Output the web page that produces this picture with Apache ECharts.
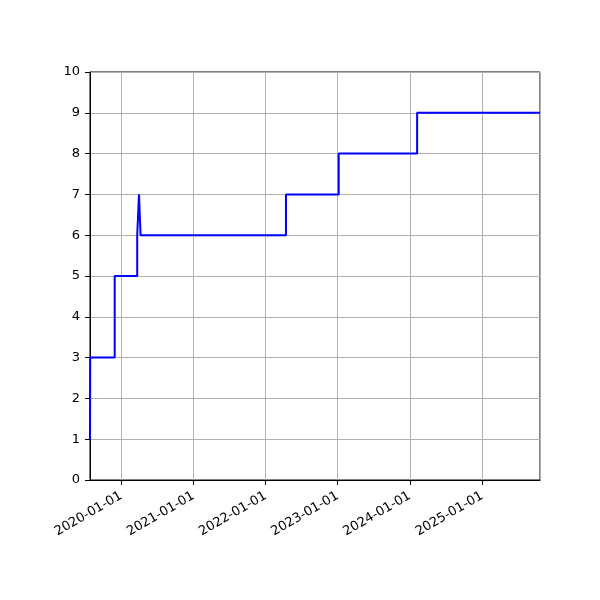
<!DOCTYPE html>
<html>
<head>
<meta charset="utf-8">
<script src="https://cdn.jsdelivr.net/npm/echarts@6/dist/echarts.min.js"></script>
<style>
  html, body { margin: 0; padding: 0; background: #fff; }
  #chart { width: 600px; height: 600px; }
</style>
</head>
<body>
<div id="chart"></div>
<script>
// step dates and the value held from that date on
const dates = ['2019-07-27', '2019-07-28', '2019-11-29', '2020-03-22', '2020-03-31',
  '2020-04-08', '2022-04-14', '2023-01-06', '2024-02-07', '2025-10-21']
const values = [1, 3, 5, 6, 7, 6, 7, 8, 9, 9]
const xMin = '2019-07-27'
const xMax = '2025-10-21'

const chart = echarts.init(document.getElementById('chart'))

const pad = n => (n < 10 ? '0' : '') + n

chart.setOption({
    animation: false,
    grid: {
        left: 90, right: 60, top: 72, bottom: 120,
        show: true, borderColor: '#000', borderWidth: 1, backgroundColor: 'transparent'
    },
    xAxis: {
        type: 'time',
        min: xMin,
        max: xMax,
        minInterval: 365 * 24 * 3600 * 1000,
        maxInterval: 366 * 24 * 3600 * 1000,
        axisLine: { onZero: false, lineStyle: { color: '#000', width: 1 } },
        axisTick: { show: true, length: 5, lineStyle: { color: '#000' } },
        axisLabel: {
            rotate: 30,
            margin: 15,
            color: '#000',
            fontSize: 13,
            fontFamily: 'DejaVu Sans',
            showMinLabel: false,
            showMaxLabel: false,
            formatter: v => {
                const d = new Date(v)
                return d.getFullYear() + '-' + pad(d.getMonth() + 1) + '-' + pad(d.getDate())
            }
        },
        splitLine: { show: true, lineStyle: { color: '#b0b0b0', width: 1 } }
    },
    yAxis: {
        type: 'value',
        min: 0,
        max: 10,
        interval: 1,
        axisLine: { show: true, lineStyle: { color: '#000', width: 1 } },
        axisTick: { show: true, length: 5, lineStyle: { color: '#000' } },
        axisLabel: { color: '#000', fontSize: 13, fontFamily: 'DejaVu Sans', margin: 10 },
        splitLine: { show: true, lineStyle: { color: '#b0b0b0', width: 1 } }
    },
    series: [{
        type: 'line',
        step: 'end',
        data: dates.map((d, i) => [d, values[i]]),
        showSymbol: false,
        lineStyle: { color: '#0000ff', width: 2 }
    }]
})
</script>
</body>
</html>
